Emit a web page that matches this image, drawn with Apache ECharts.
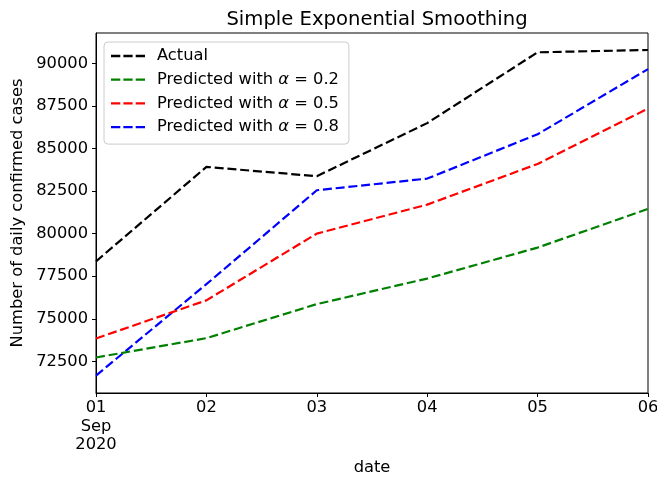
<!DOCTYPE html>
<html><head><meta charset="utf-8">
<script src="https://cdn.jsdelivr.net/npm/echarts@6/dist/echarts.min.js"></script>
<style>html,body{margin:0;padding:0;background:#fff}#c{width:657px;height:480px}</style>
</head><body><div id="c"></div>
<script>
const categories = ['01\nSep\n2020', '02', '03', '04', '05', '06'];
const actual = [78371, 83918, 83371, 86488, 90647, 90782];
const alpha02 = [72725, 73860, 75860, 77360, 79180, 81450];
const alpha05 = [73842, 76080, 80000, 81700, 84090, 87340];
const alpha08 = [71665, 77030, 82545, 83230, 85835, 89660];
const yTicks = [72500, 75000, 77500, 80000, 82500, 85000, 87500, 90000];
const seriesNames = ['Actual', 'Predicted with α = 0.2', 'Predicted with α = 0.5', 'Predicted with α = 0.8'];
const colors = ['#000000', '#008000', '#ff0000', '#0000ff'];
const font = 'DejaVu Sans';
const fs = 16.3;
const dataSets = [actual, alpha02, alpha05, alpha08];
const dashIcon = 'path://M0,0H9.3V2.3H0Z M12.35,0H21.65V2.3H12.35Z M24.7,0H34V2.3H24.7Z';
const chart = echarts.init(document.getElementById('c'), null, {renderer: 'canvas'});
chart.setOption({
  animation: false,
  backgroundColor: '#ffffff',
  title: {text: 'Simple Exponential Smoothing', left: 372, top: 5, textAlign: 'center',
    textStyle: {fontFamily: font, fontSize: 19.6, fontWeight: 'normal', color: '#000'}},
  grid: {left: 96, right: 9, top: 33, bottom: 87, show: true, borderColor: '#000', borderWidth: 1,
    backgroundColor: 'transparent', containLabel: false, outerBoundsMode: 'none'},
  legend: {
    orient: 'vertical', left: 104, top: 42, padding: [6, 10, 9, 7],
    backgroundColor: 'rgba(255,255,255,0.8)', borderColor: '#cccccc', borderWidth: 1, borderRadius: 4,
    itemWidth: 34, itemHeight: 16, itemGap: 7.7,
    icon: dashIcon,
    data: seriesNames.map((n, i) => ({name: n, icon: dashIcon, itemStyle: {color: colors[i]}})),
    formatter: function (n) {
      if (n.indexOf('α') < 0) return '{n|' + n + '}';
      const p = n.split('α');
      return '{n|' + p[0] + '}{a|α}{n|' + p[1] + '}';
    },
    textStyle: {fontFamily: font, fontSize: fs, color: '#000', padding: [0, 0, 0, 7],
      rich: {n: {fontFamily: font, fontSize: fs, color: '#000'}, a: {fontFamily: font, fontSize: fs, fontStyle: 'italic', color: '#000'}}}
  },
  xAxis: {
    type: 'category', data: categories, boundaryGap: false,
    name: 'date', nameLocation: 'middle', nameGap: 67,
    nameTextStyle: {fontFamily: font, fontSize: fs, color: '#000'},
    axisLine: {show: true, lineStyle: {color: '#000', width: 1}},
    axisTick: {show: true, inside: false, length: 4, alignWithLabel: true, lineStyle: {color: '#000'}},
    axisLabel: {fontFamily: font, fontSize: fs, color: '#000', margin: 6, lineHeight: 18.5, showMinLabel: true, showMaxLabel: true},
    splitLine: {show: false}
  },
  yAxis: {
    type: 'value', min: 70640, max: 91780,
    name: 'Number of daily confirmed cases', nameLocation: 'middle', nameGap: 70,
    nameTextStyle: {fontFamily: font, fontSize: fs, color: '#000'},
    axisLine: {show: true, lineStyle: {color: '#000', width: 1}},
    axisTick: {show: true, length: 4, customValues: yTicks, lineStyle: {color: '#000'}},
    axisLabel: {fontFamily: font, fontSize: fs, color: '#000', margin: 8, customValues: yTicks,
      formatter: v => String(v)},
    splitLine: {show: false}
  },
  series: dataSets.map((d, i) => ({
    name: seriesNames[i], type: 'line', data: d, symbol: 'none', showSymbol: false,
    lineStyle: {color: colors[i], width: 2.2, type: [9, 3.8]},
    itemStyle: {color: colors[i]}, z: 2 + (3 - i)
  }))
});
</script></body></html>
